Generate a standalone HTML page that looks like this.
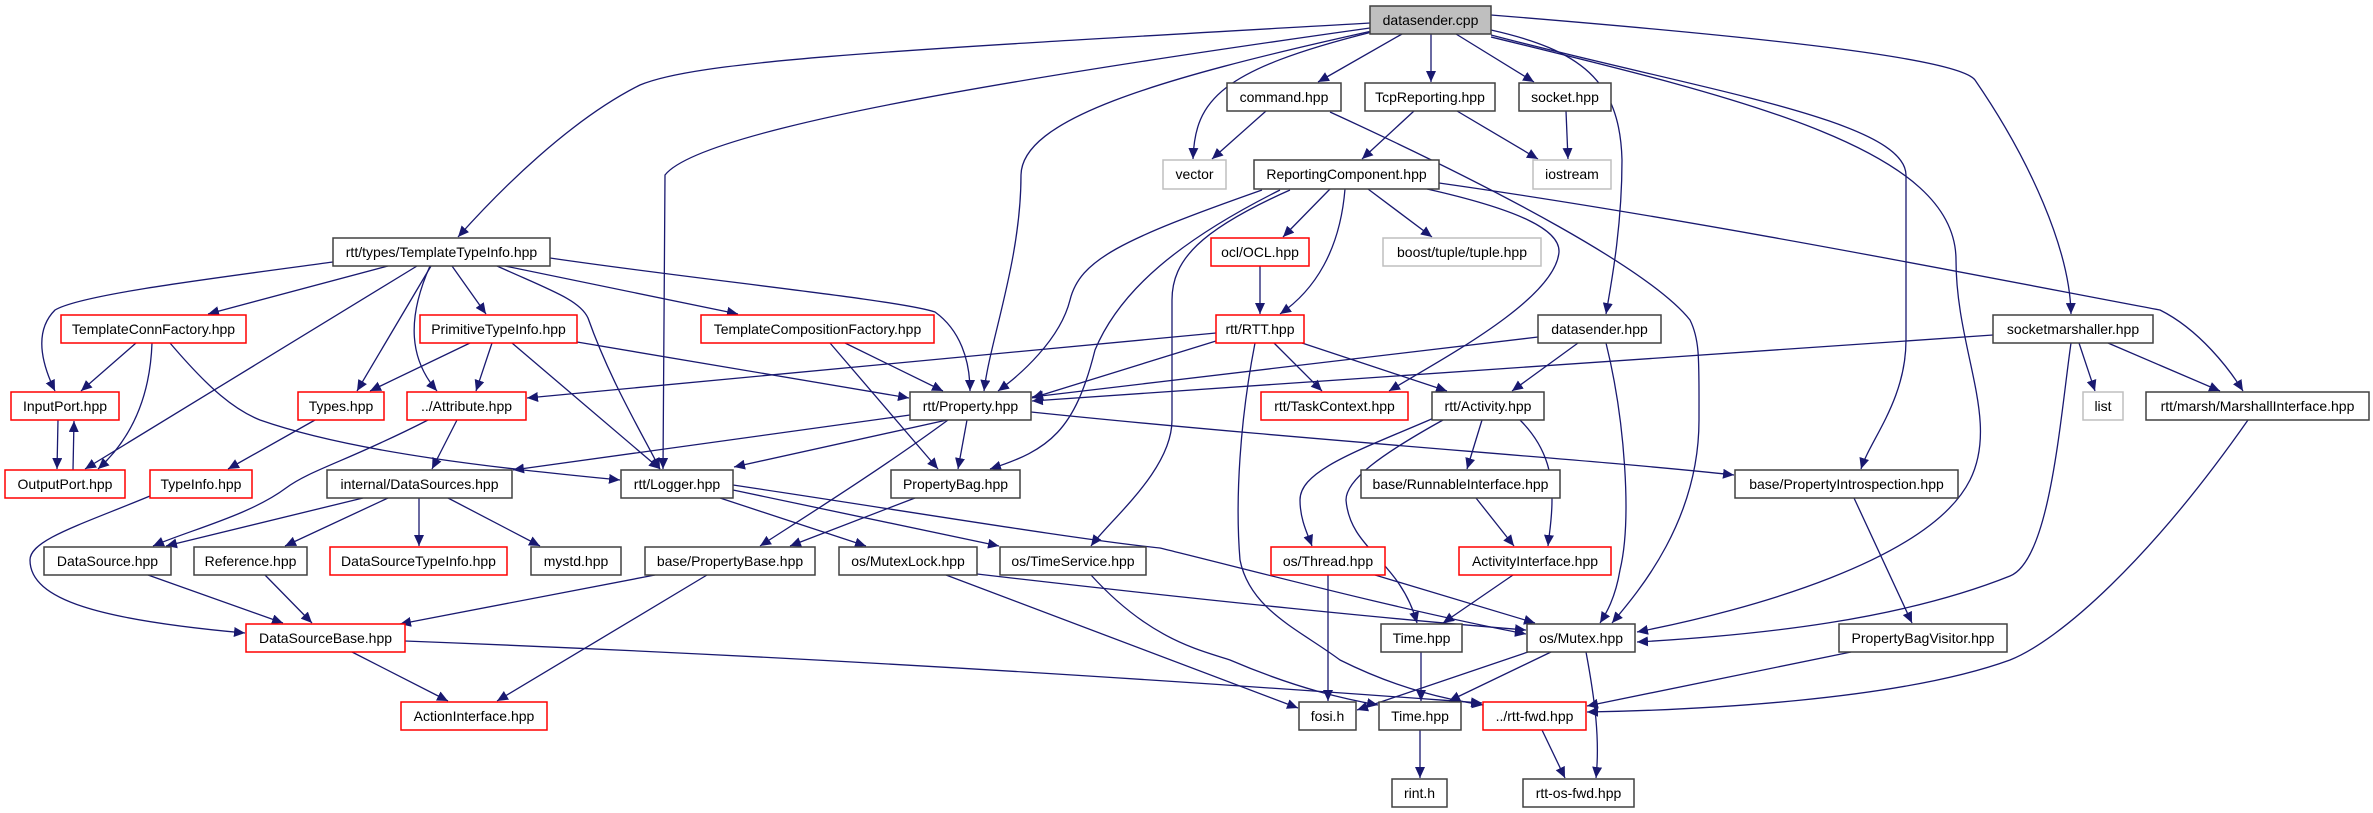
<!DOCTYPE html>
<html><head><meta charset="utf-8"><style>
html,body{margin:0;padding:0;background:#fff}
svg{display:block}
text{font-family:"Liberation Sans",sans-serif;font-size:14px;fill:#000}
.e{fill:none;stroke:#191970;stroke-width:1.3}
.b{fill:#fff;stroke:#404040;stroke-width:1.5}
.r{fill:#fff;stroke:#ff0000;stroke-width:1.5}
.g{fill:#fff;stroke:#bfbfbf;stroke-width:1.5}
</style></head><body>
<svg width="2373" height="813" viewBox="0 0 2373 813" xmlns="http://www.w3.org/2000/svg">
<defs><marker id="a" markerUnits="userSpaceOnUse" markerWidth="12" markerHeight="10" refX="11" refY="5" orient="auto"><path d="M0,0 L11,5 L0,10 z" fill="#191970"/></marker></defs>
<g class="e" marker-end="url(#a)">
<path d="M1370,23 C900,50 700,60 640,85 C570,120 500,190 458,237"/>
<path d="M1370,28 C1000,80 700,130 665,175 L663,469"/>
<path d="M1372,31 C1150,80 1022,120 1021,175 C1021,260 990,340 984,391"/>
<path d="M1372,32 C1220,70 1195,100 1193,159"/>
<path d="M1402,34 L1318,82"/>
<path d="M1431,34 L1431,82"/>
<path d="M1456,34 L1534,82"/>
<path d="M1266,111 L1212,159"/>
<path d="M1414,111 L1362,159"/>
<path d="M1457,111 L1538,159"/>
<path d="M1566,111 L1568,159"/>
<path d="M1491,30 C1580,50 1620,80 1622,160 C1622,230 1610,290 1606,314"/>
<path d="M1491,35 C1700,90 1905,120 1906,175 L1906,340 C1906,400 1870,440 1861,469"/>
<path d="M1330,112 C1500,190 1650,270 1690,320 C1700,340 1699,360 1699,420 C1699,520 1640,590 1612,623"/>
<path d="M1606,343 C1625,420 1632,520 1620,570 C1615,600 1605,615 1600,623"/>
<path d="M1491,37 C1750,100 1956,150 1956,260 C1956,350 2000,420 1970,480 C1930,560 1750,610 1637,632"/>
<path d="M2071,343 C2060,420 2050,560 2010,576 C1900,620 1760,635 1637,642"/>
<path d="M1491,15 C1800,40 1960,60 1975,80 C2030,160 2070,250 2071,314"/>
<path d="M1439,183 C1700,220 2000,280 2160,310 C2200,330 2230,370 2243,391"/>
<path d="M2108,343 L2220,391"/>
<path d="M2079,343 L2095,391"/>
<path d="M1993,335 L1032,401"/>
<path d="M1538,337 L1032,397"/>
<path d="M1578,343 L1512,391"/>
<path d="M1330,189 L1283,237"/>
<path d="M1345,189 C1340,250 1315,290 1280,314"/>
<path d="M1368,189 L1432,237"/>
<path d="M1427,189 C1520,210 1560,230 1559,252 C1555,300 1440,360 1389,391"/>
<path d="M1262,190 C1120,240 1080,260 1070,300 C1060,340 1020,375 998,391"/>
<path d="M1280,190 C1180,240 1120,290 1095,350 C1075,430 1050,450 990,469"/>
<path d="M1290,190 C1200,230 1172,260 1172,300 L1172,420 C1172,470 1110,520 1091,546"/>
<path d="M1260,266 L1260,314"/>
<path d="M1216,333 L527,398"/>
<path d="M1216,341 L1032,398"/>
<path d="M1274,343 L1322,391"/>
<path d="M1302,343 L1447,391"/>
<path d="M1255,343 C1240,420 1235,500 1240,560 C1250,610 1300,630 1340,660 C1400,690 1450,700 1483,705"/>
<path d="M333,262 C200,280 80,295 55,310 C35,330 40,360 55,391"/>
<path d="M388,266 L208,314"/>
<path d="M417,266 L85,469"/>
<path d="M431,266 L357,391"/>
<path d="M430,266 C406,320 410,360 437,391"/>
<path d="M452,266 L486,314"/>
<path d="M497,266 C550,290 580,300 588,318 C610,380 640,430 660,469"/>
<path d="M505,266 L738,314"/>
<path d="M550,258 C700,280 900,300 935,312 C960,330 970,360 970,391"/>
<path d="M136,343 L81,391"/>
<path d="M152,343 C150,400 130,440 98,469"/>
<path d="M170,343 C210,390 235,410 260,420 C360,455 520,470 620,480"/>
<path d="M470,343 L370,391"/>
<path d="M492,343 L476,391"/>
<path d="M512,343 L660,469"/>
<path d="M577,342 L909,398"/>
<path d="M845,343 L943,391"/>
<path d="M830,343 L938,469"/>
<path d="M58,420 L57,469"/>
<path d="M73,470 L74,421"/>
<path d="M315,420 L228,469"/>
<path d="M150,496 C80,525 30,540 30,560 C30,600 100,620 245,633"/>
<path d="M457,420 L432,469"/>
<path d="M428,420 C350,460 310,470 286,488 C250,515 190,530 153,546"/>
<path d="M363,498 L166,546"/>
<path d="M388,498 L285,546"/>
<path d="M419,498 L419,546"/>
<path d="M448,498 L540,546"/>
<path d="M910,415 L513,470"/>
<path d="M947,420 L734,467"/>
<path d="M967,420 L958,469"/>
<path d="M948,420 C880,470 800,520 760,546"/>
<path d="M1031,412 C1300,440 1600,460 1734,475"/>
<path d="M720,498 L866,546"/>
<path d="M733,490 L999,546"/>
<path d="M733,485 C900,510 1080,540 1160,548 C1250,570 1400,610 1526,634"/>
<path d="M915,498 L790,546"/>
<path d="M655,575 L400,624"/>
<path d="M707,575 L497,701"/>
<path d="M148,575 L283,623"/>
<path d="M265,575 L312,623"/>
<path d="M352,652 L448,701"/>
<path d="M405,641 C900,660 1300,690 1482,703"/>
<path d="M946,575 L1298,708"/>
<path d="M977,574 C1200,600 1400,620 1526,630"/>
<path d="M1091,575 C1150,640 1200,650 1230,660 C1300,690 1350,700 1378,705"/>
<path d="M1434,418 C1360,450 1300,470 1300,500 C1300,520 1308,535 1312,546"/>
<path d="M1443,420 C1380,455 1346,480 1346,500 C1350,550 1400,560 1417,623"/>
<path d="M1482,420 L1467,469"/>
<path d="M1520,420 C1550,450 1552,480 1552,500 C1552,520 1549,535 1548,546"/>
<path d="M1476,498 L1514,546"/>
<path d="M1513,575 L1443,623"/>
<path d="M1328,575 L1328,701"/>
<path d="M1375,575 L1535,623"/>
<path d="M1421,652 L1421,701"/>
<path d="M1528,652 L1357,710"/>
<path d="M1551,652 L1449,701"/>
<path d="M1586,652 C1595,700 1600,740 1596,778"/>
<path d="M1420,730 L1420,778"/>
<path d="M1542,730 L1565,778"/>
<path d="M1854,498 L1912,623"/>
<path d="M1851,652 L1587,706"/>
<path d="M2248,420 C2150,560 2060,640 2010,660 C1900,700 1700,710 1587,712"/>
</g>
<g>
<rect x="1370" y="6" width="121" height="28" fill="#bfbfbf" stroke="#404040" stroke-width="1.5"/><text x="1430.5" y="25" text-anchor="middle">datasender.cpp</text>
<rect class="b" x="1227" y="83" width="114" height="28"/><text x="1284" y="102" text-anchor="middle">command.hpp</text>
<rect class="b" x="1365" y="83" width="130" height="28"/><text x="1430" y="102" text-anchor="middle">TcpReporting.hpp</text>
<rect class="b" x="1519" y="83" width="92" height="28"/><text x="1565" y="102" text-anchor="middle">socket.hpp</text>
<rect class="g" x="1163" y="160" width="63" height="29"/><text x="1194.5" y="179" text-anchor="middle">vector</text>
<rect class="b" x="1254" y="160" width="185" height="29"/><text x="1346.5" y="179" text-anchor="middle">ReportingComponent.hpp</text>
<rect class="g" x="1533" y="160" width="78" height="29"/><text x="1572" y="179" text-anchor="middle">iostream</text>
<rect class="b" x="333" y="238" width="217" height="28"/><text x="441.5" y="257" text-anchor="middle">rtt/types/TemplateTypeInfo.hpp</text>
<rect class="r" x="1211" y="238" width="98" height="28"/><text x="1260" y="257" text-anchor="middle">ocl/OCL.hpp</text>
<rect class="g" x="1383" y="238" width="158" height="28"/><text x="1462" y="257" text-anchor="middle">boost/tuple/tuple.hpp</text>
<rect class="r" x="61" y="315" width="185" height="28"/><text x="153.5" y="334" text-anchor="middle">TemplateConnFactory.hpp</text>
<rect class="r" x="420" y="315" width="157" height="28"/><text x="498.5" y="334" text-anchor="middle">PrimitiveTypeInfo.hpp</text>
<rect class="r" x="701" y="315" width="233" height="28"/><text x="817.5" y="334" text-anchor="middle">TemplateCompositionFactory.hpp</text>
<rect class="r" x="1216" y="315" width="88" height="28"/><text x="1260" y="334" text-anchor="middle">rtt/RTT.hpp</text>
<rect class="b" x="1538" y="315" width="123" height="28"/><text x="1599.5" y="334" text-anchor="middle">datasender.hpp</text>
<rect class="b" x="1993" y="315" width="160" height="28"/><text x="2073" y="334" text-anchor="middle">socketmarshaller.hpp</text>
<rect class="r" x="11" y="392" width="108" height="28"/><text x="65" y="411" text-anchor="middle">InputPort.hpp</text>
<rect class="r" x="298" y="392" width="86" height="28"/><text x="341" y="411" text-anchor="middle">Types.hpp</text>
<rect class="r" x="407" y="392" width="119" height="28"/><text x="466.5" y="411" text-anchor="middle">../Attribute.hpp</text>
<rect class="b" x="910" y="392" width="121" height="28"/><text x="970.5" y="411" text-anchor="middle">rtt/Property.hpp</text>
<rect class="r" x="1261" y="392" width="147" height="28"/><text x="1334.5" y="411" text-anchor="middle">rtt/TaskContext.hpp</text>
<rect class="b" x="1432" y="392" width="112" height="28"/><text x="1488" y="411" text-anchor="middle">rtt/Activity.hpp</text>
<rect class="g" x="2083" y="392" width="40" height="28"/><text x="2103" y="411" text-anchor="middle">list</text>
<rect class="b" x="2146" y="392" width="223" height="28"/><text x="2257.5" y="411" text-anchor="middle">rtt/marsh/MarshallInterface.hpp</text>
<rect class="r" x="5" y="470" width="120" height="28"/><text x="65" y="489" text-anchor="middle">OutputPort.hpp</text>
<rect class="r" x="150" y="470" width="102" height="28"/><text x="201" y="489" text-anchor="middle">TypeInfo.hpp</text>
<rect class="b" x="327" y="470" width="185" height="28"/><text x="419.5" y="489" text-anchor="middle">internal/DataSources.hpp</text>
<rect class="b" x="621" y="470" width="112" height="28"/><text x="677" y="489" text-anchor="middle">rtt/Logger.hpp</text>
<rect class="b" x="891" y="470" width="129" height="28"/><text x="955.5" y="489" text-anchor="middle">PropertyBag.hpp</text>
<rect class="b" x="1361" y="470" width="199" height="28"/><text x="1460.5" y="489" text-anchor="middle">base/RunnableInterface.hpp</text>
<rect class="b" x="1735" y="470" width="223" height="28"/><text x="1846.5" y="489" text-anchor="middle">base/PropertyIntrospection.hpp</text>
<rect class="b" x="44" y="547" width="127" height="28"/><text x="107.5" y="566" text-anchor="middle">DataSource.hpp</text>
<rect class="b" x="194" y="547" width="113" height="28"/><text x="250.5" y="566" text-anchor="middle">Reference.hpp</text>
<rect class="r" x="330" y="547" width="177" height="28"/><text x="418.5" y="566" text-anchor="middle">DataSourceTypeInfo.hpp</text>
<rect class="b" x="531" y="547" width="90" height="28"/><text x="576" y="566" text-anchor="middle">mystd.hpp</text>
<rect class="b" x="645" y="547" width="170" height="28"/><text x="730" y="566" text-anchor="middle">base/PropertyBase.hpp</text>
<rect class="b" x="839" y="547" width="138" height="28"/><text x="908" y="566" text-anchor="middle">os/MutexLock.hpp</text>
<rect class="b" x="1000" y="547" width="146" height="28"/><text x="1073" y="566" text-anchor="middle">os/TimeService.hpp</text>
<rect class="r" x="1271" y="547" width="114" height="28"/><text x="1328" y="566" text-anchor="middle">os/Thread.hpp</text>
<rect class="r" x="1459" y="547" width="152" height="28"/><text x="1535" y="566" text-anchor="middle">ActivityInterface.hpp</text>
<rect class="r" x="246" y="624" width="159" height="28"/><text x="325.5" y="643" text-anchor="middle">DataSourceBase.hpp</text>
<rect class="b" x="1381" y="624" width="81" height="28"/><text x="1421.5" y="643" text-anchor="middle">Time.hpp</text>
<rect class="b" x="1527" y="624" width="108" height="28"/><text x="1581" y="643" text-anchor="middle">os/Mutex.hpp</text>
<rect class="b" x="1839" y="624" width="168" height="28"/><text x="1923" y="643" text-anchor="middle">PropertyBagVisitor.hpp</text>
<rect class="r" x="401" y="702" width="146" height="28"/><text x="474" y="721" text-anchor="middle">ActionInterface.hpp</text>
<rect class="b" x="1299" y="702" width="57" height="28"/><text x="1327.5" y="721" text-anchor="middle">fosi.h</text>
<rect class="b" x="1379" y="702" width="82" height="28"/><text x="1420" y="721" text-anchor="middle">Time.hpp</text>
<rect class="r" x="1483" y="702" width="103" height="28"/><text x="1534.5" y="721" text-anchor="middle">../rtt-fwd.hpp</text>
<rect class="b" x="1392" y="779" width="55" height="28"/><text x="1419.5" y="798" text-anchor="middle">rint.h</text>
<rect class="b" x="1523" y="779" width="111" height="28"/><text x="1578.5" y="798" text-anchor="middle">rtt-os-fwd.hpp</text>
</g>
</svg>
</body></html>
